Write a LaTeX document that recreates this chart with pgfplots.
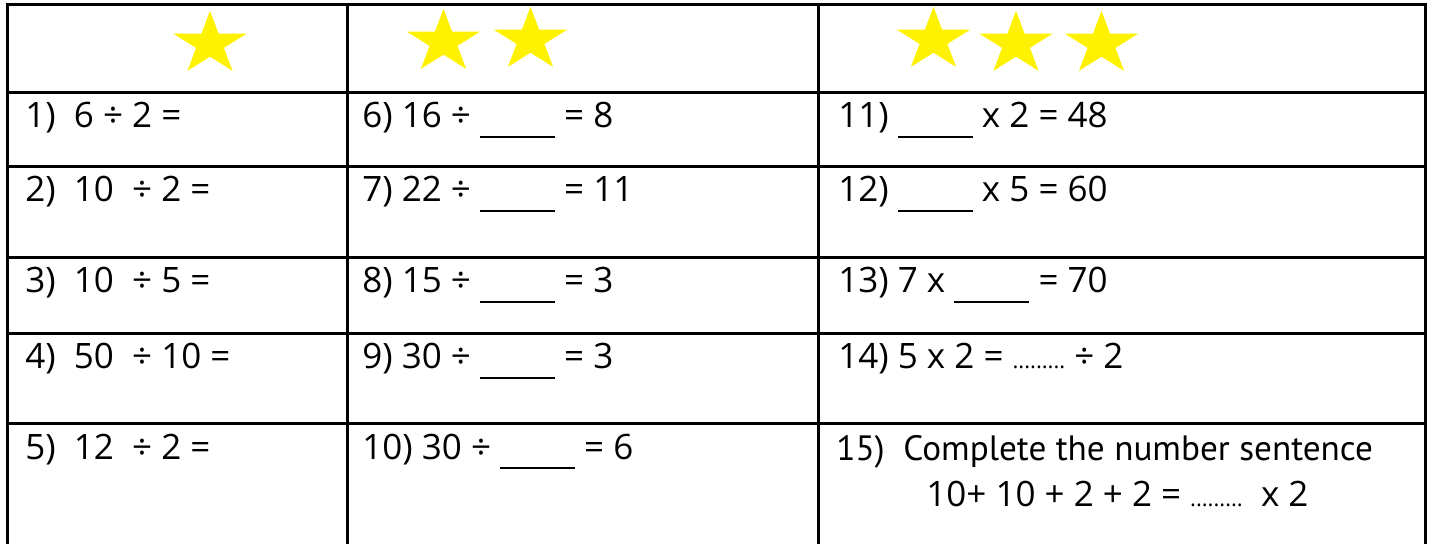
\documentclass[border=0pt]{standalone}
\usepackage{pgfplots}
\pgfplotsset{compat=1.18}
\usepackage{fontspec}
\setmainfont{Open Sans}
\newfontfamily\narrow{PT Sans}

% filled five-point star, a little flatter than a regular one
\pgfdeclareplotmark{fstar}{%
  \pgfpathmoveto{\pgfqpoint{0pt}{0.865\pgfplotmarksize}}%
  \pgfpathlineto{\pgfqpoint{-0.2245\pgfplotmarksize}{0.2673\pgfplotmarksize}}%
  \pgfpathlineto{\pgfqpoint{-0.9511\pgfplotmarksize}{0.2673\pgfplotmarksize}}%
  \pgfpathlineto{\pgfqpoint{-0.3633\pgfplotmarksize}{-0.1021\pgfplotmarksize}}%
  \pgfpathlineto{\pgfqpoint{-0.5878\pgfplotmarksize}{-0.6998\pgfplotmarksize}}%
  \pgfpathlineto{\pgfqpoint{0pt}{-0.3304\pgfplotmarksize}}%
  \pgfpathlineto{\pgfqpoint{0.5878\pgfplotmarksize}{-0.6998\pgfplotmarksize}}%
  \pgfpathlineto{\pgfqpoint{0.3633\pgfplotmarksize}{-0.1021\pgfplotmarksize}}%
  \pgfpathlineto{\pgfqpoint{0.9511\pgfplotmarksize}{0.2673\pgfplotmarksize}}%
  \pgfpathlineto{\pgfqpoint{0.2245\pgfplotmarksize}{0.2673\pgfplotmarksize}}%
  \pgfpathclose
  \pgfusepathqfill
}

\newcommand{\blank}{\rule[-5pt]{37.5pt}{0.8pt}}
\newcommand{\fillin}{{\fontsize{11}{11}\selectfont .........}}
\tikzset{txt/.style={anchor=base west, inner sep=0pt, font=\fontsize{17.5}{21}\selectfont}}

\begin{document}
\begin{tikzpicture}
  \begin{axis}[
      width=716pt, height=271pt, scale only axis,
      xmin=0, xmax=1432, ymin=0, ymax=542, y dir=reverse,
      hide axis, clip=false,
      rule/.style={black, line width=1.5pt, line cap=rect},
    ]
    \path (axis cs:0,0) rectangle (axis cs:1432,542);

    % table rules
    \addplot[rule] coordinates {(7,5) (1425,5)};
    \addplot[rule] coordinates {(7,93) (1425,93)};
    \addplot[rule] coordinates {(7,167) (1425,167)};
    \addplot[rule] coordinates {(7,258) (1425,258)};
    \addplot[rule] coordinates {(7,334) (1425,334)};
    \addplot[rule] coordinates {(7,424) (1425,424)};
    \addplot[rule] coordinates {(7,5) (7,542)};
    \addplot[rule] coordinates {(347,5) (347,542)};
    \addplot[rule] coordinates {(818,5) (818,542)};
    \addplot[rule] coordinates {(1425,5) (1425,542)};

    % stars
    \addplot[only marks, mark=fstar, mark size=19.2pt, yellow]
      coordinates {(210,44) (443.5,42) (530.5,40) (933.5,40) (1016,44) (1101.5,44)};

    % column 1
    \node[txt] at (axis cs:25,128) {1)\ \ 6 ÷ 2 =};
    \node[txt] at (axis cs:25,202) {2)\ \ 10\ \ ÷ 2 =};
    \node[txt] at (axis cs:25,293) {3)\ \ 10\ \ ÷ 5 =};
    \node[txt] at (axis cs:25,369) {4)\ \ 50\ \ ÷ 10 =};
    \node[txt] at (axis cs:25,459) {5)\ \ 12\ \ ÷ 2 =};

    % column 2
    \node[txt] at (axis cs:362,128) {6) 16 ÷ \blank\ = 8};
    \node[txt] at (axis cs:362,202) {7) 22 ÷ \blank\ = 11};
    \node[txt] at (axis cs:362,293) {8) 15 ÷ \blank\ = 3};
    \node[txt] at (axis cs:362,369) {9) 30 ÷ \blank\ = 3};
    \node[txt] at (axis cs:362,459) {10) 30 ÷ \blank\ = 6};

    % column 3
    \node[txt] at (axis cs:838,128) {11) \blank\ x 2 = 48};
    \node[txt] at (axis cs:838,202) {12) \blank\ x 5 = 60};
    \node[txt] at (axis cs:838,293) {13) 7 x \blank\ = 70};
    \node[txt] at (axis cs:838,369) {14) 5 x 2 = \fillin\ ÷ 2};
    \node[txt] at (axis cs:836,461) {\narrow\fontsize{17.6}{21}\selectfont 15)\ \ Complete the number sentence};
    \node[txt] at (axis cs:926,507) {10+ 10 + 2 + 2 = \fillin\ \ x 2};
  \end{axis}
\end{tikzpicture}
\end{document}
